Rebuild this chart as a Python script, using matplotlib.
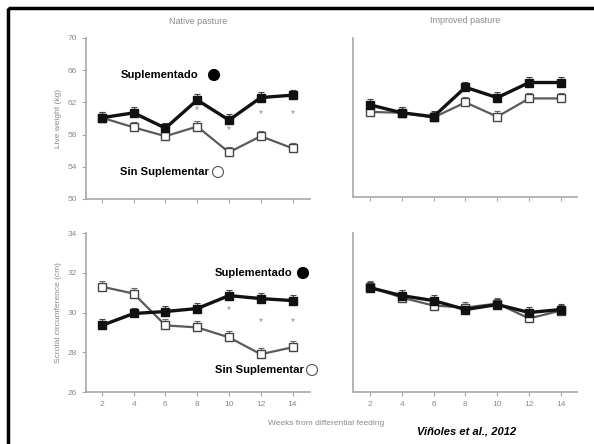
import matplotlib
matplotlib.use('Agg')
import matplotlib.pyplot as plt
from matplotlib.patches import Circle, Rectangle

plt.rcParams['font.family'] = ['Liberation Sans', 'DejaVu Sans']

weeks = [2, 4, 6, 8, 10, 12, 14]

# live weight (kg)
lw_native_sup = [60.1, 60.7, 58.8, 62.3, 59.8, 62.6, 62.9]
lw_native_nosup = [60.1, 58.9, 57.8, 59.0, 55.8, 57.8, 56.3]
lw_improved_sup = [61.6, 60.6, 60.1, 63.8, 62.5, 64.4, 64.4]
lw_improved_nosup = [60.7, 60.6, 60.0, 61.9, 60.1, 62.4, 62.4]
lw_err = [0.7, 0.7, 0.7, 0.7, 0.7, 0.7, 0.7]

# scrotal circumference (cm)
sc_native_sup = [29.35, 29.95, 30.05, 30.2, 30.85, 30.7, 30.6]
sc_native_nosup = [31.3, 30.95, 29.35, 29.25, 28.75, 27.9, 28.25]
sc_improved_sup = [31.25, 30.85, 30.6, 30.15, 30.4, 30.0, 30.15]
sc_improved_nosup = [31.3, 30.75, 30.35, 30.25, 30.45, 29.7, 30.1]
sc_err = [0.3, 0.3, 0.3, 0.3, 0.3, 0.3, 0.3]

lw_star_weeks = [8, 10, 12, 14]
lw_star_y = [61.0, 58.6, 60.5, 60.5]
sc_star_weeks = [10, 12, 14]
sc_star_y = [30.1, 29.5, 29.5]

W, H = 594, 444
fig = plt.figure(figsize=(W / 100, H / 100), dpi=100)

grey = '#a8a8a8'
txt = '#8a8a8a'


def box(x0, x1, y0, y1):
    return [x0 / W, 1 - y1 / H, (x1 - x0) / W, (y1 - y0) / H]


def panel(rect, sup, nosup, err, ylim, yticks, xlim, show_y, show_x):
    ax = fig.add_axes(rect)
    ax.errorbar(weeks, nosup, yerr=[[0] * 7, err], fmt='none', ecolor='#666666',
                elinewidth=0.8, capsize=2, capthick=0.8, zorder=2)
    ax.errorbar(weeks, sup, yerr=[[0] * 7, err], fmt='none', ecolor='#444444',
                elinewidth=0.8, capsize=2, capthick=0.8, zorder=2)
    ax.plot(weeks, nosup, color='#5a5a5a', lw=1.6, marker='s', ms=5.5,
            mfc='white', mec='#444444', mew=1, zorder=3)
    ax.plot(weeks, sup, color='#111111', lw=2.4, marker='s', ms=6,
            mfc='#111111', mec='#111111', zorder=4)
    ax.set_xlim(*xlim)
    ax.set_ylim(*ylim)
    ax.set_yticks(yticks)
    ax.set_xticks(weeks)
    for s in ['top', 'right']:
        ax.spines[s].set_visible(False)
    for s in ['left', 'bottom']:
        ax.spines[s].set_color(grey)
        ax.spines[s].set_linewidth(1.2)
    ax.tick_params(colors=grey, labelcolor=txt, labelsize=6, length=3, width=0.8)
    if not show_y:
        ax.tick_params(axis='y', labelleft=False, length=0)
    if not show_x:
        ax.tick_params(axis='x', labelbottom=False)
    ax.patch.set_alpha(0)
    return ax


ax1 = panel(box(86, 310, 38, 199), lw_native_sup, lw_native_nosup, lw_err,
            (50, 70), [50, 54, 58, 62, 66, 70], (1.0, 15.1), True, False)
ax2 = panel(box(353, 577, 38, 197), lw_improved_sup, lw_improved_nosup, lw_err,
            (50, 70), [50, 54, 58, 62, 66, 70], (0.95, 15.0), False, False)
ax3 = panel(box(86, 310, 233, 392), sc_native_sup, sc_native_nosup, sc_err,
            (26, 34), [26, 28, 30, 32, 34], (1.0, 15.1), True, True)
ax4 = panel(box(353, 577, 233, 392), sc_improved_sup, sc_improved_nosup, sc_err,
            (26, 34), [26, 28, 30, 32, 34], (0.95, 15.0), False, True)

for x, y in zip(lw_star_weeks, lw_star_y):
    ax1.text(x, y, '*', color=txt, fontsize=7, ha='center', va='center')
for x, y in zip(sc_star_weeks, sc_star_y):
    ax3.text(x, y, '*', color=txt, fontsize=7, ha='center', va='center')

ax1.set_ylabel('Live weight (kg)', color=txt, fontsize=6)
ax3.set_ylabel('Scrotal circumference (cm)', color=txt, fontsize=6)
ax1.set_title('Native pasture', color=txt, fontsize=6.5, pad=10)
ax2.set_title('Improved pasture', color=txt, fontsize=6.5, pad=11)

# overlay in pixel coordinates for frame and labels
ov = fig.add_axes([0, 0, 1, 1], zorder=10)
ov.set_xlim(0, W)
ov.set_ylim(H, 0)
ov.axis('off')
ov.patch.set_alpha(0)
ov.add_patch(Rectangle((8, 8), W + 10, H + 10, fill=False, lw=2.5, ec='black'))

ov.text(326, 423, 'Weeks from differential feeding', color=txt, fontsize=6,
        ha='center', va='center')
ov.text(417, 431, 'Viñoles et al., 2012', fontsize=8, fontweight='bold',
        fontstyle='italic', ha='left', va='center')

labels = [
    (121, 75, 'Suplementado', 214, True),
    (120, 172, 'Sin Suplementar', 218, False),
    (215, 273, 'Suplementado', 303, True),
    (215, 370, 'Sin Suplementar', 312, False),
]
for x, y, s, cx, filled in labels:
    ov.text(x, y, s, fontsize=8.1, fontweight='bold', ha='left', va='center')
    ov.add_patch(Circle((cx, y), 5.5, fc='black' if filled else 'white',
                        ec='black' if filled else '#555555', lw=0.8))

fig.savefig('out.png', dpi=100)
